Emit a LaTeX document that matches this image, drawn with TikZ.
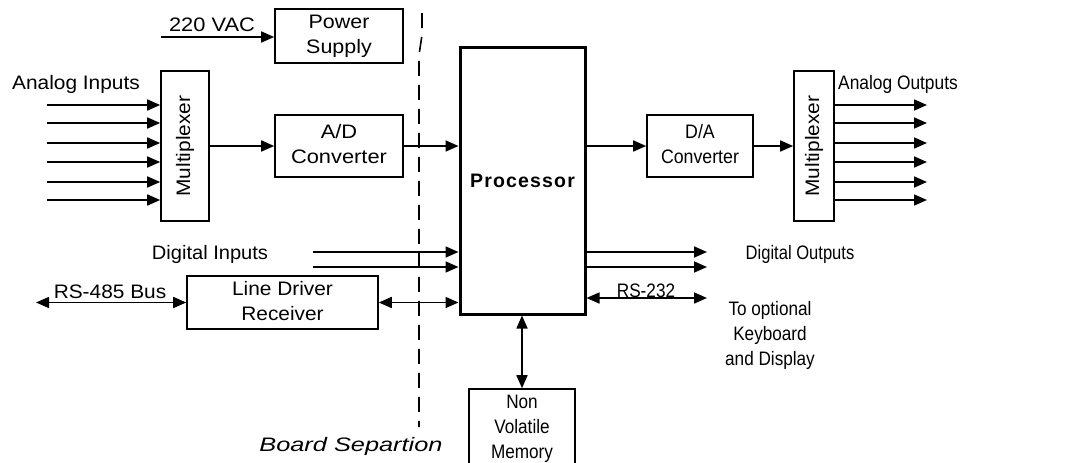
\documentclass[tikz,border=0pt]{standalone}
\usepackage{fontspec}
\setmainfont{Liberation Sans}
\usetikzlibrary{arrows.meta}
\newcommand{\sx}[2]{\scalebox{#1}[1]{\begin{tabular}{@{}c@{}}#2\end{tabular}}}
\newcommand{\sy}[2]{\scalebox{#1}[1]{#2}}
\begin{document}
\begin{tikzpicture}[x=1pt,y=-1pt,
  font=\fontsize{19.5}{25}\selectfont,
  box/.style={draw, line width=1.6pt, inner sep=0pt},
  lbl/.style={inner sep=0pt},
  arr/.style={line width=1.6pt, -{Triangle[length=13pt,width=11pt]}},
  darr/.style={line width=1.6pt, {Triangle[length=13pt,width=11pt]}-{Triangle[length=13pt,width=11pt]}},
  sep/.style={line width=1.6pt, dash pattern=on 15pt off 9pt}
]
\useasboundingbox (0,0) rectangle (1074,463);

% boxes
\node[box, minimum width=128pt, minimum height=54pt] (ps) at (339,36) {\sx{1.1}{Power\\Supply}};
\node[box, minimum width=48pt, minimum height=150pt] (muxL) at (185,146) {\rotatebox{90}{\sy{1.07}{Multiplexer}}};
\node[box, minimum width=128pt, minimum height=62pt] (ad) at (339,146) {\sx{1.12}{A/D\\Converter}};
\node[box, line width=3pt, minimum width=125pt, minimum height=267pt] (proc) at (522.5,180.5) {\bfseries\addfontfeature{LetterSpace=6}Processor};
\node[box, minimum width=106pt, minimum height=62pt] (da) at (700,146) {\sx{0.91}{D/A\\Converter}};
\node[box, minimum width=40pt, minimum height=150pt] (muxR) at (814,146) {\rotatebox{90}{\sy{1.07}{Multiplexer}}};
\node[box, minimum width=191pt, minimum height=53pt] (ldr) at (282.5,302.5) {\sx{1.07}{Line Driver\\Receiver}};
\node[box, minimum width=106pt, minimum height=78pt] (mem) at (522,428) {\sx{0.88}{Non\\Volatile\\Memory}};

% labels
\node[lbl] (vacl) at (212,25) {\sy{1.12}{220 VAC}};
\node[lbl] (ail) at (76,84) {\sy{1.07}{Analog Inputs}};
\node[lbl] (aol) at (898,84) {\sy{0.89}{Analog Outputs}};
\node[lbl] (dil) at (210,254) {\sy{1.03}{Digital Inputs}};
\node[lbl] (dol) at (800,254) {\sy{0.85}{Digital Outputs}};
\node[lbl] (rs485l) at (110,292) {\sy{1.07}{RS-485 Bus}};
\node[lbl, anchor=base] (rs232l) at (646,297) {\sy{0.88}{RS-232}};
\node[lbl] (kbl) at (770,335) {\sx{0.88}{To optional\\Keyboard\\and Display}};
\node[lbl] (bsl) at (351,446) {\itshape\sy{1.3}{Board Separtion}};

% analog inputs / outputs
\foreach \y [count=\i] in {105,123,143,162,182,200} {
  \coordinate (ai\i) at (47,\y);
  \draw[arr] (ai\i) -- (ai\i -| muxL.west);
  \coordinate (ao\i) at (927,\y);
  \draw[arr] (ao\i -| muxR.east) -- (ao\i);
}

% power
\coordinate (vac) at (161,37);
\draw[arr] (vac) -- (vac -| ps.west);

% main chain
\draw[arr] (muxL.east |- ad.west) -- (ad.west);
\draw[arr] (ad.east) -- (ad.east -| proc.west);
\draw[arr] (proc.east |- da.west) -- (da.west);
\draw[arr] (da.east) -- (da.east -| muxR.west);

% digital inputs / outputs
\coordinate (di1) at (313,252);
\coordinate (di2) at (313,267);
\draw[arr] (di1) -- (di1 -| proc.west);
\draw[arr] (di2) -- (di2 -| proc.west);
\coordinate (do1) at (707,252);
\coordinate (do2) at (707,267);
\draw[arr] (do1 -| proc.east) -- (do1);
\draw[arr] (do2 -| proc.east) -- (do2);

% RS-485 / line driver
\coordinate (rs) at (36,302.5);
\draw[darr] (rs) -- (rs -| ldr.west);
\draw[darr] (ldr.east) -- (ldr.east -| proc.west);

% RS-232
\coordinate (kb) at (707,298);
\draw[darr] (kb -| proc.east) -- (kb);

% memory
\draw[darr] (mem.north) -- (mem.north |- proc.south);

% board separation
\coordinate (bs1) at (422,13);
\coordinate (bs2) at (422,35);
\coordinate (bs3) at (419,55);
\coordinate (bs4) at (419,427);
\draw[sep] (bs1) -- (bs2) -- (bs3) -- (bs4);
\end{tikzpicture}
\end{document}
